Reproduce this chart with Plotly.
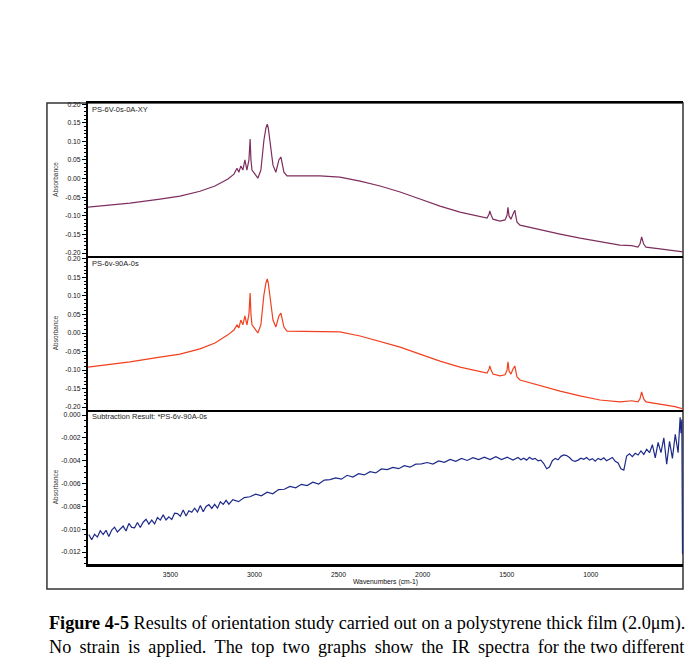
import plotly.graph_objects as go
from plotly.subplots import make_subplots

# ---------------- data ----------------
wn1 = [3990, 3859, 3740, 3562, 3443, 3324, 3235, 3158, 3122, 3104, 3093, 3081, 3069, 3057, 3045,
       3033, 3026, 3021, 3015, 2997, 2980, 2962, 2944, 2932, 2924, 2918, 2908, 2890, 2873, 2855,
       2843, 2825, 2807, 2730, 2611, 2492, 2372, 2253, 2134, 2016, 1897, 1778, 1659, 1617, 1605,
       1601, 1593, 1582, 1540, 1510, 1498, 1493, 1486, 1475, 1463, 1452, 1446, 1439, 1421, 1302,
       1183, 1064, 946, 827, 757, 720, 708, 698, 686, 672, 589, 500, 452]
abs1 = [-0.0765, -0.071, -0.066, -0.055, -0.047, -0.034, -0.020, -0.001, 0.012, 0.028, 0.017, 0.034, 0.023, 0.050, 0.023,
        0.050, 0.106, 0.050, 0.023, 0.012, 0.001, 0.023, 0.103, 0.136, 0.146, 0.136, 0.103, 0.036, 0.017, 0.050,
        0.058, 0.017, 0.007, 0.007, 0.007, 0.004, -0.007, -0.020, -0.036, -0.055, -0.074, -0.090, -0.103, -0.106, -0.095,
        -0.087, -0.098, -0.109, -0.114, -0.111, -0.098, -0.077, -0.101, -0.109, -0.096, -0.085, -0.101, -0.117, -0.125, -0.138,
        -0.149, -0.160, -0.170, -0.179, -0.180, -0.184, -0.176, -0.157, -0.176, -0.184, -0.189, -0.195, -0.197]

wn2 = wn1
abs2 = [-0.092, -0.084, -0.078, -0.065, -0.057, -0.043, -0.027, -0.005, 0.008, 0.022, 0.014, 0.035, 0.022, 0.046, 0.022,
        0.051, 0.108, 0.051, 0.022, 0.011, 0.000, 0.022, 0.103, 0.135, 0.146, 0.135, 0.103, 0.035, 0.016, 0.046,
        0.054, 0.016, 0.005, 0.005, 0.005, 0.003, -0.008, -0.022, -0.038, -0.057, -0.076, -0.092, -0.105, -0.108, -0.097,
        -0.089, -0.100, -0.111, -0.116, -0.113, -0.100, -0.078, -0.103, -0.111, -0.097, -0.089, -0.103, -0.119, -0.127, -0.143,
        -0.157, -0.170, -0.181, -0.186, -0.183, -0.186, -0.178, -0.159, -0.178, -0.186, -0.192, -0.199, -0.205]

wn3 = [3985, 3968, 3951, 3934, 3917, 3900, 3883, 3866, 3849, 3832, 3815, 3798, 3781, 3764, 3747, 3730, 3713,
       3696, 3679, 3662, 3645, 3628, 3611, 3594, 3577, 3560, 3543, 3526, 3509, 3492, 3475, 3458, 3441, 3424,
       3407, 3390, 3373, 3356, 3339, 3322, 3305, 3288, 3271, 3254, 3237, 3220, 3203, 3186, 3169, 3152,
       3129, 3095, 3061, 3027, 2993, 2959, 2925, 2891, 2857, 2823, 2789, 2755, 2721, 2687, 2653, 2619, 2585,
       2551, 2517, 2483, 2449, 2415, 2381, 2347, 2313, 2279, 2245, 2211, 2177, 2143, 2109, 2075, 2041, 2007,
       1973, 1939, 1905, 1871, 1837, 1803, 1769, 1735, 1701, 1667, 1633, 1599, 1565, 1531, 1497, 1463,
       1433, 1416, 1399, 1382, 1365, 1348, 1331, 1314, 1297, 1280, 1263, 1246, 1229, 1212, 1195, 1178, 1161,
       1144, 1127, 1110, 1093, 1076, 1059, 1042, 1025, 1008, 991, 974, 957, 940, 923, 906, 889, 872, 855,
       838, 821, 804, 787, 770, 753, 736, 719, 702, 685, 668, 651, 634, 617, 600, 583, 566, 549, 532, 515, 498,
       481, 474, 469, 464, 459, 455]
abs3 = [-0.01048, -0.01092, -0.01045, -0.01069, -0.01013, -0.01047, -0.01010, -0.01064, -0.01008, -0.00982,
        -0.01025, -0.00999, -0.00973, -0.01016, -0.00950, -0.00984, -0.00988, -0.00941, -0.00985, -0.00939,
        -0.00913, -0.00956, -0.00920, -0.00954, -0.00898, -0.00921, -0.00875, -0.00919, -0.00892, -0.00916,
        -0.00860, -0.00864, -0.00887, -0.00831, -0.00885, -0.00839, -0.00852, -0.00816, -0.00850, -0.00793,
        -0.00847, -0.00801, -0.00785, -0.00818, -0.00782, -0.00816, -0.00760, -0.00783, -0.00747, -0.00781,
        -0.00741, -0.00759, -0.00723, -0.00716, -0.00694, -0.00708, -0.00676, -0.00690, -0.00653, -0.00650,
        -0.00625, -0.00638, -0.00607, -0.00618, -0.00588, -0.00604, -0.00570, -0.00566, -0.00551, -0.00562,
        -0.00528, -0.00544, -0.00514, -0.00525, -0.00496, -0.00507, -0.00472, -0.00478, -0.00459, -0.00470,
        -0.00443, -0.00457, -0.00430, -0.00428, -0.00416, -0.00429, -0.00402, -0.00415, -0.00389, -0.00405,
        -0.00381, -0.00398, -0.00374, -0.00390, -0.00370, -0.00390, -0.00365, -0.00390, -0.00370, -0.00395,
        -0.00372, -0.00392, -0.00378, -0.00395, -0.00370, -0.00388, -0.00380, -0.00402, -0.00395, -0.00425,
        -0.00470, -0.00455, -0.00400, -0.00380, -0.00392, -0.00362, -0.00350, -0.00355, -0.00372, -0.00398,
        -0.00405, -0.00395, -0.00378, -0.00388, -0.00372, -0.00395, -0.00382, -0.00405, -0.00380, -0.00392,
        -0.00375, -0.00400, -0.00385, -0.00372, -0.00405, -0.00420, -0.00470, -0.00482, -0.00360, -0.00340,
        -0.00365, -0.00335, -0.00350, -0.00315, -0.00345, -0.00300, -0.00330, -0.00260, -0.00375, -0.00240,
        -0.00330, -0.00200, -0.00430, -0.00230, -0.00380, -0.00170,
        -0.00330, -0.00080, -0.00020, -0.00160, -0.00040, -0.01220]

x_ticks = [3500, 3000, 2500, 2000, 1500, 1000]
y12_ticks = [0.20, 0.15, 0.10, 0.05, 0.00, -0.05, -0.10, -0.15, -0.20]
y12_labels = ["0.20", "0.15", "0.10", "0.05", "0.00", "-0.05", "-0.10", "-0.15", "-0.20"]
y3_ticks = [0.000, -0.002, -0.004, -0.006, -0.008, -0.010, -0.012]
y3_labels = ["0.000", "-0.002", "-0.004", "-0.006", "-0.008", "-0.010", "-0.012"]

titles = ["PS-6V-0s-0A-XY", "PS-6v-90A-0s", "Subtraction Result: *PS-6v-90A-0s"]
colors = ["#7e2e5e", "#f2401e", "#1e2a8a"]

# ---------------- figure ----------------
fig = make_subplots(rows=3, cols=1, shared_xaxes=True, vertical_spacing=0,
                    row_heights=[153, 154, 154])

for i, (wx, wy) in enumerate([(wn1, abs1), (wn2, abs2), (wn3, abs3)]):
    fig.add_trace(go.Scatter(x=wx, y=wy, mode="lines",
                             line=dict(color=colors[i], width=1.2),
                             showlegend=False), row=i + 1, col=1)

tick_font = dict(family="Liberation Sans, Arial", size=6.8, color="#111")
for r in (1, 2, 3):
    fig.update_xaxes(range=[3990, 452], showgrid=False, zeroline=False,
                     showline=True, linecolor="black", linewidth=2 if r < 3 else 3,
                     ticks="", tickvals=x_ticks, tickfont=tick_font, row=r, col=1)
fig.update_xaxes(mirror=True, row=1, col=1)
fig.update_xaxes(title=dict(text="Wavenumbers (cm-1)",
                            font=dict(family="Liberation Sans, Arial", size=6.8, color="#111"), standoff=0),
                 ticklabelstandoff=2, row=3, col=1)

yrng = [[-0.208, 0.203], [-0.208, 0.208], [-0.01305, 0.00044]]
for r in (1, 2, 3):
    tv = y12_ticks if r < 3 else y3_ticks
    tt = y12_labels if r < 3 else y3_labels
    fig.update_yaxes(range=yrng[r - 1], showgrid=False, zeroline=False,
                     showline=True, linecolor="black", linewidth=2,
                     ticks="outside", ticklen=4, tickwidth=1, tickcolor="black",
                     tickvals=tv, ticktext=tt, tickfont=tick_font,
                     minor=dict(ticks="outside", ticklen=2, tickwidth=1, tickcolor="black",
                                dtick=0.01 if r < 3 else 0.0005),
                     row=r, col=1)

annotations = []
doms = [(0.668, 1.0), (0.334, 0.668), (0.0, 0.334)]
for i, (lo, hi) in enumerate(doms):
    annotations.append(dict(text=titles[i], xref="paper", yref="paper", x=0.004, y=hi - 0.001,
                            xanchor="left", yanchor="top", showarrow=False,
                            font=dict(family="Liberation Sans, Arial", size=7.5, color="#222")))
    annotations.append(dict(text="Absorbance", xref="paper", yref="paper", x=-0.055, y=(lo + hi) / 2,
                            xanchor="center", yanchor="middle", textangle=-90, showarrow=False,
                            font=dict(family="Liberation Sans, Arial", size=6.5, color="#333")))

cap_font = dict(family="Liberation Serif, Times New Roman", size=18.2, color="black")
ts = "\u2009"
line2 = ("No " + ts + "strain " + ts + "is " + ts + "applied. " + ts + "The " + ts + "top " + ts + "two " + ts +
         "graphs " + ts + "show " + ts + "the " + ts + "IR " + ts + "spectra " + ts + "for the two different")
annotations.append(dict(text="<b>Figure 4-5</b> Results of orientation study carried out on a polystyrene thick film (2.0μm).",
                        xref="paper", yref="paper", x=-0.069, y=-0.128, xanchor="left", yanchor="middle",
                        showarrow=False, font=cap_font))
annotations.append(dict(text=line2,
                        xref="paper", yref="paper", x=-0.069, y=-0.180, xanchor="left", yanchor="middle",
                        showarrow=False, font=cap_font))

fig.update_layout(
    width=690, height=666,
    margin=dict(l=88, r=7, t=103, b=102),
    paper_bgcolor="white", plot_bgcolor="white",
    annotations=annotations,
    shapes=[dict(type="rect", xref="paper", yref="paper", x0=-0.069, x1=1.0, y0=-0.0542, y1=1.0,
                 line=dict(color="#333", width=1.5), layer="below")],
)

fig.write_html("out.html")
